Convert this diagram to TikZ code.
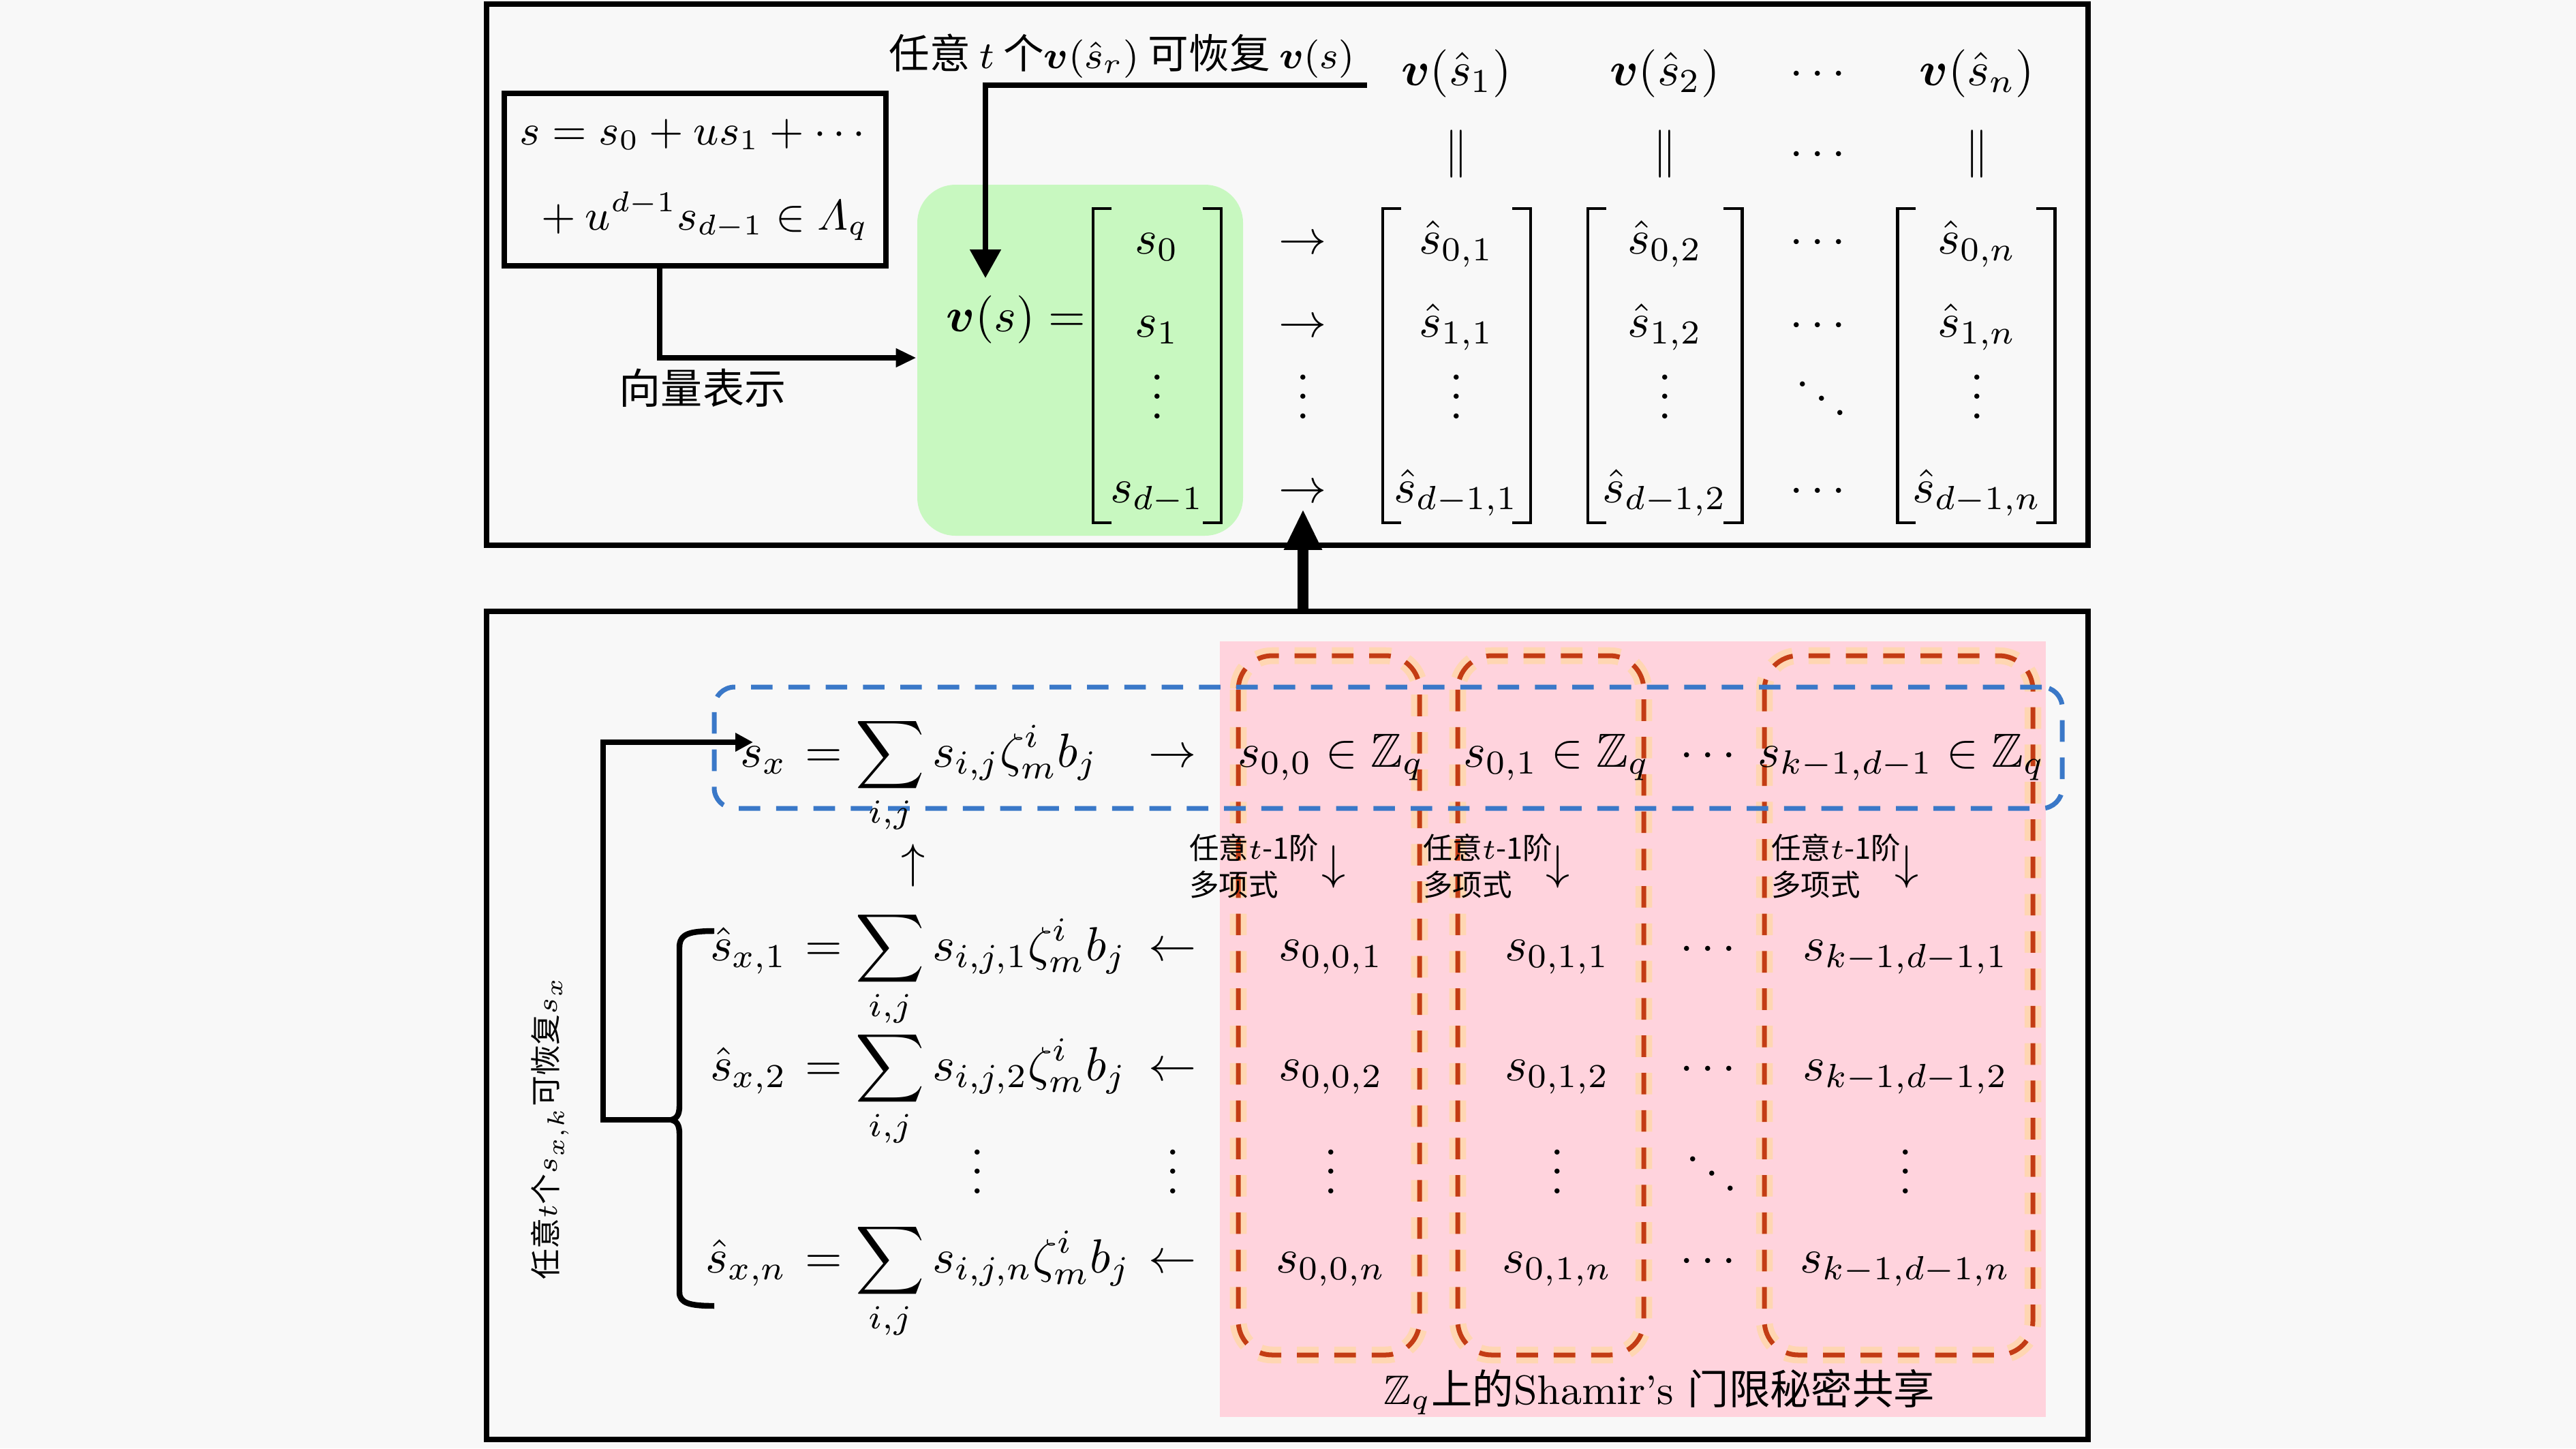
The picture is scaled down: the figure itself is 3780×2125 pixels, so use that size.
\documentclass[tikz,border=0pt]{standalone}
\usepackage{amsmath,amssymb}
\usepackage{fontspec}
\newfontfamily\cjk{Noto Sans CJK SC}
\usetikzlibrary{arrows.meta,fit,calc}
\definecolor{bgc}{RGB}{248,248,248}
\definecolor{greenc}{RGB}{200,248,192}
\definecolor{pinkc}{RGB}{255,211,221}
\definecolor{bluec}{RGB}{58,120,200}
\definecolor{redc}{RGB}{195,60,20}
\definecolor{peachc}{RGB}{255,214,178}
\newcommand\fsT{\fontsize{8.5}{10}\selectfont}
\newcommand\fsB{\fontsize{8.7}{10}\selectfont}
\newcommand\fsS{\fontsize{6.2}{7.7}\selectfont}
\newcommand\fsR{\fontsize{6.4}{8}\selectfont}
\newcommand\fsC{\fontsize{8.6}{10}\selectfont}
\newcommand\fsF{\fontsize{9}{11}\selectfont}
\begin{document}
\begin{tikzpicture}[x=0.005cm,y=-0.005cm,
  txt/.style={inner sep=0pt,outer sep=0pt},
  bx/.style={draw,line width=1.2pt,inner sep=0pt},
  conn/.style={line width=1.2pt},
  brk/.style={line width=0.7pt},
  bluedash/.style={draw=bluec,line width=1pt,dash pattern=on 4.5pt off 3.3pt,rounded corners=0.15cm,inner sep=0pt},
  halo/.style={draw=peachc,line width=3.5pt,dash pattern=on 4.5pt off 3.3pt,rounded corners=0.25cm,inner sep=0pt},
  reddash/.style={draw=redc,line width=1pt,dash pattern=on 4.5pt off 3.3pt,rounded corners=0.25cm,inner sep=0pt}]
\path[fill=bgc] (0,0) rectangle (3780,2125);
\useasboundingbox (0,0) rectangle (3780,2125);

% ---------- boxes ----------
\node[bx,fit={(714,6)(3064,800)}] (topbox) {};
\node[bx,fit={(714,897)(3064,2112)}] (botbox) {};
\node[fill=pinkc,inner sep=0pt,fit={(1790,941)(3002,2079)}] (pink) {};
\node[fill=greenc,rounded corners=0.28cm,inner sep=0pt,fit={(1346,271)(1824,786)}] (green) {};
\node[bx,fit={(740,137)(1300,390)}] (fbox) {};

% ---------- top part ----------
\node[txt,anchor=base west,font=\fsF] (f1) at (762,212) {$s = s_0 + us_1 + \cdots$};
\node[txt,anchor=base east,font=\fsF] (f2) at (1274,337) {${}+u^{d-1}s_{d-1} \in \varLambda_q$};
\node[txt,anchor=base] (tt) at (1646,100) {\fsT\cjk 任意 $t$ 个$\boldsymbol{v}(\hat{s}_r)$ 可恢复 $\boldsymbol{v}(s)$};
\node[txt] (lbl) at (1031,569) {\fsB\cjk 向量表示};

\node[txt,anchor=base east] (vs) at (1593,486) {$\boldsymbol{v}(s) =$};
\node[txt,anchor=base] (g0) at (1698,372) {$s_0$};
\node[txt,anchor=base] (g1) at (1698,494) {$s_1$};
\node[txt,anchor=base] (g2) at (1698,614) {$\vdots$};
\node[txt,anchor=base] (g3) at (1698,737) {$s_{d-1}$};

\node[txt,anchor=base] (a0) at (1912,372) {$\rightarrow$};
\node[txt,anchor=base] (a1) at (1912,494) {$\rightarrow$};
\node[txt,anchor=base] (a2) at (1912,614) {$\vdots$};
\node[txt,anchor=base] (a3) at (1912,737) {$\rightarrow$};

\node[txt,anchor=base] (h1) at (2137,125) {$\boldsymbol{v}(\hat{s}_1)$};
\node[txt,anchor=base] (h2) at (2443,125) {$\boldsymbol{v}(\hat{s}_2)$};
\node[txt,anchor=base] (h3) at (2673,125) {$\cdots$};
\node[txt,anchor=base] (h4) at (2901,125) {$\boldsymbol{v}(\hat{s}_n)$};
\node[txt,anchor=base] (p1) at (2137,243) {$\|$};
\node[txt,anchor=base] (p2) at (2443,243) {$\|$};
\node[txt,anchor=base] (p3) at (2673,243) {$\cdots$};
\node[txt,anchor=base] (p4) at (2901,243) {$\|$};

\node[txt,anchor=base] (m11) at (2137,372) {$\hat{s}_{0,1}$};
\node[txt,anchor=base] (m12) at (2137,494) {$\hat{s}_{1,1}$};
\node[txt,anchor=base] (m13) at (2137,614) {$\vdots$};
\node[txt,anchor=base] (m14) at (2137,737) {$\hat{s}_{d-1,1}$};
\node[txt,anchor=base] (m21) at (2443,372) {$\hat{s}_{0,2}$};
\node[txt,anchor=base] (m22) at (2443,494) {$\hat{s}_{1,2}$};
\node[txt,anchor=base] (m23) at (2443,614) {$\vdots$};
\node[txt,anchor=base] (m24) at (2443,737) {$\hat{s}_{d-1,2}$};
\node[txt,anchor=base] (m31) at (2673,372) {$\cdots$};
\node[txt,anchor=base] (m32) at (2673,494) {$\cdots$};
\node[txt,anchor=base] (m33) at (2673,617) {$\ddots$};
\node[txt,anchor=base] (m34) at (2673,737) {$\cdots$};
\node[txt,anchor=base] (m41) at (2901,372) {$\hat{s}_{0,n}$};
\node[txt,anchor=base] (m42) at (2901,494) {$\hat{s}_{1,n}$};
\node[txt,anchor=base] (m43) at (2901,614) {$\vdots$};
\node[txt,anchor=base] (m44) at (2901,737) {$\hat{s}_{d-1,n}$};

\foreach \xa/\xb in {1604/1792,2029/2246,2330/2556,2784/3015}{
  \draw[brk] (\xa+27,306) -- (\xa,306) -- (\xa,767) -- (\xa+27,767);
  \draw[brk] (\xb-27,306) -- (\xb,306) -- (\xb,767) -- (\xb-27,767);
}

\coordinate (c1) at (968,0);
\coordinate (c2) at (0,525);
\draw[conn,-{Triangle[width=0.13cm,length=0.15cm]}] (fbox.south -| c1) |- (green.west |- c2);
\coordinate (r1) at (2006,125);
\coordinate (r2) at (1446,408);
\draw[conn,-{Triangle[width=0.22cm,length=0.21cm]}] (r1) -| (r2);
\coordinate (ua) at (1912,747);
\draw[line width=2.2pt,-{Triangle[width=0.26cm,length=0.3cm]}] (botbox.north -| ua) -- (ua);

% ---------- bottom part ----------
\foreach \xa/\xb in {1817/2083,2139/2412,2589/2983}{
  \draw[halo] (\xa,962) rectangle (\xb,1988);
  \draw[reddash] (\xa,962) rectangle (\xb,1988);
}
\node[bluedash,fit={(1048,1008)(3026,1186)}] (rowbox) {};

\node[txt,anchor=base east] (sx) at (1155,1125) {$s_x$};
\node[txt,anchor=base east] (sx1) at (1155,1409) {$\hat{s}_{x,1}$};
\node[txt,anchor=base east] (sx2) at (1155,1585) {$\hat{s}_{x,2}$};
\node[txt,anchor=base east] (sxn) at (1155,1867) {$\hat{s}_{x,n}$};
\node[txt,anchor=base west] (e0) at (1181,1125) {$\displaystyle =\sum_{i,j} s_{i,j}\zeta_m^i b_j$};
\node[txt,anchor=base west] (e1) at (1181,1409) {$\displaystyle =\sum_{i,j} s_{i,j,1}\zeta_m^i b_j$};
\node[txt,anchor=base west] (e2) at (1181,1585) {$\displaystyle =\sum_{i,j} s_{i,j,2}\zeta_m^i b_j$};
\node[txt,anchor=base west] (en) at (1181,1867) {$\displaystyle =\sum_{i,j} s_{i,j,n}\zeta_m^i b_j$};
\node[txt,anchor=base] (ev) at (1434,1751) {$\vdots$};
\node[txt] (up) at (1340,1270) {$\uparrow$};

\node[txt,anchor=base] (b0) at (1721,1125) {$\rightarrow$};
\node[txt,anchor=base] (b1) at (1721,1409) {$\leftarrow$};
\node[txt,anchor=base] (b2) at (1721,1585) {$\leftarrow$};
\node[txt,anchor=base] (bv) at (1721,1751) {$\vdots$};
\node[txt,anchor=base] (bn) at (1721,1867) {$\leftarrow$};

\node[txt,anchor=base] (z1) at (1953,1125) {$s_{0,0}\in\mathbb{Z}_q$};
\node[txt,anchor=base] (z2) at (2284,1125) {$s_{0,1}\in\mathbb{Z}_q$};
\node[txt,anchor=base] (z3) at (2512,1125) {$\cdots$};
\node[txt,anchor=base] (z4) at (2790,1125) {$s_{k-1,d-1}\in\mathbb{Z}_q$};

\node[txt,anchor=west,align=left,font=\fsS\cjk] (l1) at (1745,1271) {任意$t$-1阶\\多项式};
\node[txt,anchor=west,align=left,font=\fsS\cjk] (l2) at (2088,1271) {任意$t$-1阶\\多项式};
\node[txt,anchor=west,align=left,font=\fsS\cjk] (l3) at (2599,1271) {任意$t$-1阶\\多项式};
\node[txt] (d1) at (1957,1272) {$\downarrow$};
\node[txt] (d2) at (2286,1272) {$\downarrow$};
\node[txt] (d3) at (2798,1272) {$\downarrow$};

\node[txt,anchor=base] (q11) at (1953,1409) {$s_{0,0,1}$};
\node[txt,anchor=base] (q12) at (1953,1585) {$s_{0,0,2}$};
\node[txt,anchor=base] (q13) at (1953,1751) {$\vdots$};
\node[txt,anchor=base] (q14) at (1953,1867) {$s_{0,0,n}$};
\node[txt,anchor=base] (q21) at (2285,1409) {$s_{0,1,1}$};
\node[txt,anchor=base] (q22) at (2285,1585) {$s_{0,1,2}$};
\node[txt,anchor=base] (q23) at (2285,1751) {$\vdots$};
\node[txt,anchor=base] (q24) at (2285,1867) {$s_{0,1,n}$};
\node[txt,anchor=base] (q31) at (2512,1409) {$\cdots$};
\node[txt,anchor=base] (q32) at (2512,1585) {$\cdots$};
\node[txt,anchor=base] (q33) at (2512,1754) {$\ddots$};
\node[txt,anchor=base] (q34) at (2512,1867) {$\cdots$};
\node[txt,anchor=base] (q41) at (2796,1409) {$s_{k-1,d-1,1}$};
\node[txt,anchor=base] (q42) at (2796,1585) {$s_{k-1,d-1,2}$};
\node[txt,anchor=base] (q43) at (2796,1751) {$\vdots$};
\node[txt,anchor=base] (q44) at (2796,1867) {$s_{k-1,d-1,n}$};

\node[txt,anchor=base] (cap) at (2435,2060) {\fsC$\mathbb{Z}_q${\cjk 上的}Shamir’s {\cjk 门限秘密共享}};
\node[txt,rotate=90] (rot) at (807,1655) {\fsR\cjk 任意$t$个$s_{x,k}$可恢复$s_x$};

% brace and connector
\coordinate (bt) at (985,1643);
\draw[conn] (1048,1366) .. controls (1012,1366) and (997,1370) .. (997,1390) -- (997,1622)
  .. controls (997,1636) and (993,1641) .. (bt)
  .. controls (993,1645) and (997,1650) .. (997,1664) -- (997,1896)
  .. controls (997,1912) and (1012,1916) .. (1048,1916);
\coordinate (cx) at (885,1089);
\coordinate (sxin) at (1105,1089);
\draw[conn,-{Triangle[width=0.13cm,length=0.13cm]}] (bt) -| (cx) -- (sxin);
\end{tikzpicture}
\end{document}
